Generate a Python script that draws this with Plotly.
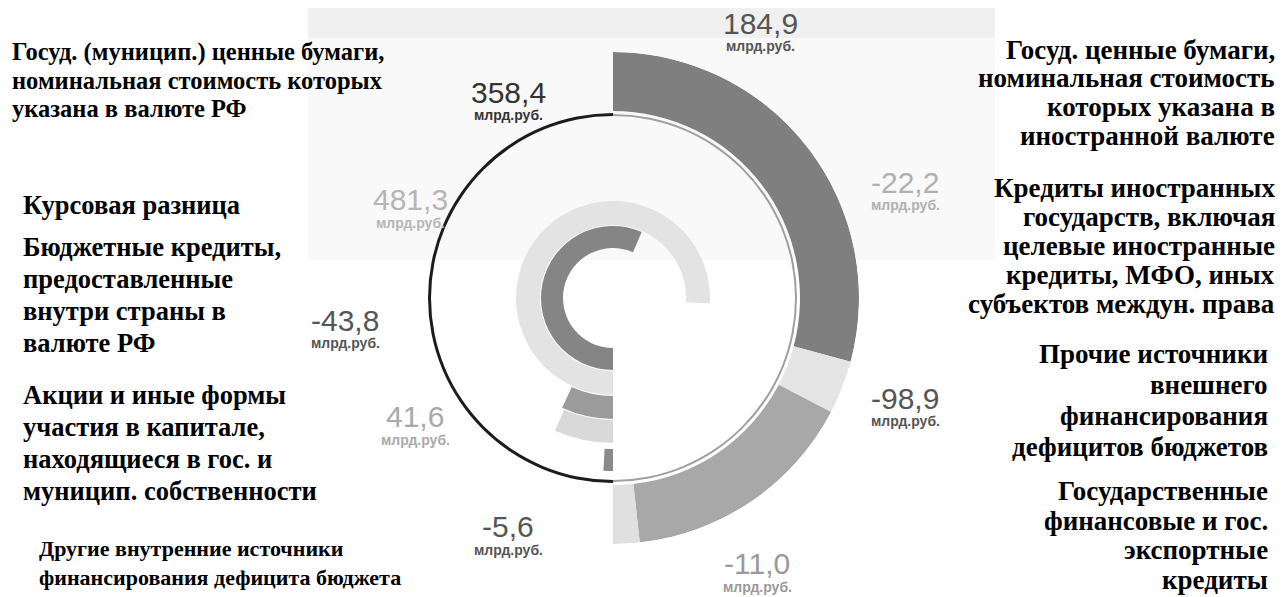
import plotly.graph_objects as go

# ---------------- DATA ----------------
left_categories = [
    "Госуд. (муницип.) ценные бумаги,\nноминальная стоимость которых\nуказана в валюте РФ",
    "Курсовая разница",
    "Бюджетные кредиты,\nпредоставленные\nвнутри страны в\nвалюте РФ",
    "Акции и иные формы\nучастия в капитале,\nнаходящиеся в гос. и\nмуницип. собственности",
    "Другие внутренние источники\nфинансирования дефицита бюджета",
]
left_values = [358.4, 481.3, -43.8, 41.6, -5.6]

right_categories = [
    "Госуд. ценные бумаги,\nноминальная стоимость\nкоторых указана в\nиностранной валюте",
    "Кредиты иностранных\nгосударств, включая\nцелевые иностранные\nкредиты, МФО, иных\nсубъектов междун. права",
    "Прочие источники\nвнешнего\nфинансирования\nдефицитов бюджетов",
    "Государственные\nфинансовые и гос.\nэкспортные\nкредиты",
]
right_values = [184.9, -22.2, -98.9, -11.0]

unit_label = "млрд.руб."

# ---------------- STYLE / LAYOUT ----------------
PAGE_OFF = 8                      # default body margin of the html page
W, H = 1283 - PAGE_OFF, 597 - PAGE_OFF
CX, CY, R_OUT = 613, 298, 246     # chart centre / outer radius (page px)

left_radii = [(50, 72), (73, 97), (98, 121), (122, 145), (151, 173)]
left_colors = ["#858585", "#e3e3e3", "#9b9b9b", "#d9d9d9", "#8a8a8a"]
right_radii = (187, 246)
right_colors = ["#7f7f7f", "#e4e4e4", "#a8a8a8", "#e0e0e0"]

# (x, number y, unit y, colour) in page px
left_value_pos = [(508, 92, 115, "#333333"), (410, 200, 223, "#b5b5b5"),
                  (345, 320, 343, "#555555"), (415, 416, 440, "#a9a9a9"),
                  (508, 526, 550, "#555555")]
right_value_pos = [(760, 23, 46, "#555555"), (905, 182, 205, "#b0b0b0"),
                   (905, 398, 421, "#555555"), (757, 563, 587, "#9a9a9a")]

# (x, first line y, line step, font size) in page px
left_text_pos = [(10, 52, 28, 24.5), (21, 205, 28, 26.5), (21, 247, 32, 26.5),
                 (21, 395, 32, 26.5), (37, 548, 29, 22)]
right_text_pos = [(1277, 50, 28.5, 27), (1277, 188, 29, 27),
                  (1270, 354, 31, 27), (1270, 491, 29.7, 27)]

SERIF = "Liberation Serif, Times New Roman, serif"
SANS = "Liberation Sans, Arial, sans-serif"

# angular scale: the right half-circle holds all external sources
deg_per_unit = 180.0 / sum(abs(v) for v in right_values)


def px(x):
    return (x - PAGE_OFF) / W


def py(y):
    return 1 - (y - PAGE_OFF) / H


def fmt(v):
    return f"{v:.1f}".replace(".", ",")


fig = go.Figure()

# decorative thin circle (dark on the left, grey on the right)
fig.add_trace(go.Barpolar(r=[3], base=[182], theta=[270], width=[180],
                          marker=dict(color="#1c1c1c", line_width=0),
                          hoverinfo="skip", showlegend=False))
fig.add_trace(go.Barpolar(r=[2], base=[182], theta=[90], width=[180],
                          marker=dict(color="#a0a0a0", line_width=0),
                          hoverinfo="skip", showlegend=False))

# left (domestic) rings: start at 6 o'clock, run clockwise
for v, (r0, r1), col in zip(left_values, left_radii, left_colors):
    span = abs(v) * deg_per_unit
    fig.add_trace(go.Barpolar(r=[r1 - r0], base=[r0], theta=[180 + span / 2],
                              width=[span], marker=dict(color=col, line_width=0),
                              hoverinfo="skip", showlegend=False))

# right (external) outer ring: start at 12 o'clock, run clockwise
start = 0.0
for v, col in zip(right_values, right_colors):
    span = abs(v) * deg_per_unit
    fig.add_trace(go.Barpolar(r=[right_radii[1] - right_radii[0]], base=[right_radii[0]],
                              theta=[start + span / 2], width=[span],
                              marker=dict(color=col, line_width=0),
                              hoverinfo="skip", showlegend=False))
    start += span

ann = []
for v, (x, yn, ys, col) in zip(left_values + right_values, left_value_pos + right_value_pos):
    ann.append(dict(x=px(x), y=py(yn), xref="paper", yref="paper", text=fmt(v),
                    showarrow=False, xanchor="center", yanchor="middle",
                    font=dict(family=SANS, size=30, color=col)))
    ann.append(dict(x=px(x), y=py(ys), xref="paper", yref="paper", text=f"<b>{unit_label}</b>",
                    showarrow=False, xanchor="center", yanchor="middle",
                    font=dict(family=SANS, size=14, color=col)))

for cats, poss, anchor in ((left_categories, left_text_pos, "left"),
                           (right_categories, right_text_pos, "right")):
    for cat, (x, y0, dy, fs) in zip(cats, poss):
        for i, line in enumerate(cat.split("\n")):
            ann.append(dict(x=px(x), y=py(y0 + i * dy), xref="paper", yref="paper",
                            text=f"<b>{line}</b>", showarrow=False, xanchor=anchor,
                            yanchor="middle", font=dict(family=SERIF, size=fs, color="#000")))

fig.update_layout(
    width=W, height=H, margin=dict(l=0, r=0, t=0, b=0),
    paper_bgcolor="white", plot_bgcolor="white",
    showlegend=False,
    annotations=ann,
    shapes=[dict(type="rect", xref="paper", yref="paper", layer="below",
                 x0=px(308), x1=px(995), y0=py(38), y1=py(8),
                 fillcolor="#f0f0f0", line_width=0),
            dict(type="rect", xref="paper", yref="paper", layer="below",
                 x0=px(308), x1=px(995), y0=py(260), y1=py(38),
                 fillcolor="#f9f9f9", line_width=0)],
    polar=dict(
        domain=dict(x=[px(CX - R_OUT), px(CX + R_OUT)], y=[py(CY + R_OUT), py(CY - R_OUT)]),
        bgcolor="rgba(0,0,0,0)",
        barmode="overlay",
        hole=0,
        radialaxis=dict(visible=False, range=[0, R_OUT]),
        angularaxis=dict(visible=False, rotation=90, direction="clockwise"),
    ),
)

fig.write_html("out.html")
